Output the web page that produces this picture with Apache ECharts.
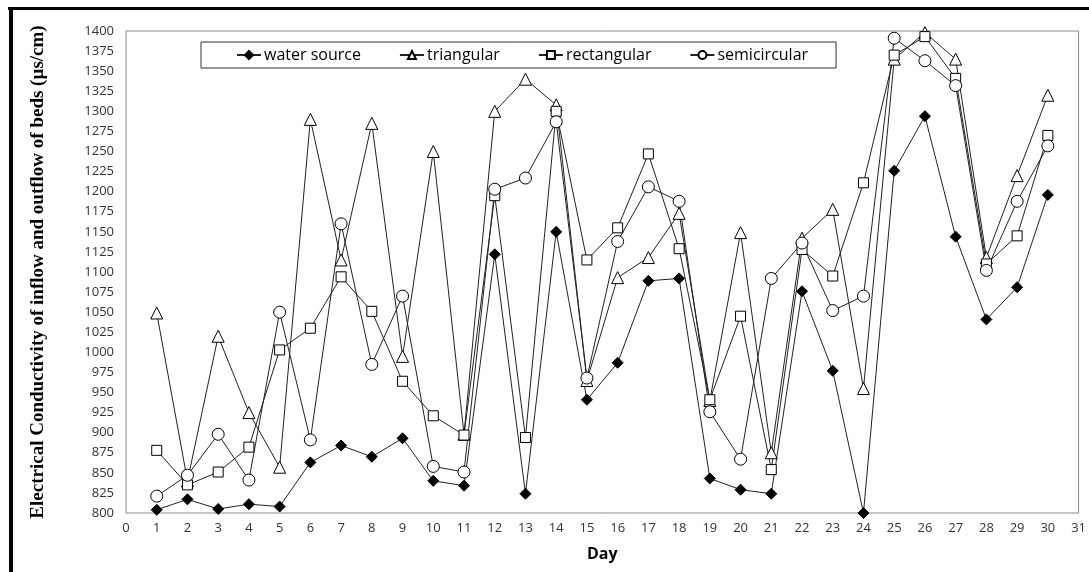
<!DOCTYPE html>
<html>
<head>
<meta charset="utf-8">
<script src="https://cdn.jsdelivr.net/npm/echarts@6/dist/echarts.min.js"></script>
<style>
html,body{margin:0;padding:0;background:#fff;}
#chart{width:1089px;height:572px;}
</style>
</head>
<body>
<div id="chart"></div>
<script>
var days = [1,2,3,4,5,6,7,8,9,10,11,12,13,14,15,16,17,18,19,20,21,22,23,24,25,26,27,28,29,30];
var waterSource = [804,817,805,811,808,863,884,870,893,840,834,1122,824,1150,941,987,1089,1092,843,829,824,1076,977,800,1226,1294,1144,1041,1081,1196];
var triangular = [1049,840,1020,925,857,1290,1115,1285,995,1250,898,1300,1340,1308,965,1093,1118,1173,940,1149,875,1142,1178,955,1365,1398,1365,1118,1220,1320];
var rectangular = [878,835,851,882,1003,1030,1094,1051,964,921,897,1195,894,1300,1115,1155,1247,1129,941,1045,854,1128,1095,1211,1370,1393,1341,1110,1145,1270];
var semicircular = [821,847,898,841,1050,891,1160,985,1070,858,851,1203,1217,1287,968,1138,1206,1188,926,867,1092,1136,1052,1070,1391,1363,1332,1102,1188,1257];
var seriesNames = ['water source','triangular','rectangular','semicircular'];

function pairs(arr){ return days.map(function(d,i){ return [d, arr[i]]; }); }

var chart = echarts.init(document.getElementById('chart'));
var lineStyle = {color:'#222', width:1};
function mk(name, data, symbol, size, fill){
  return {
    name: name, type: 'line', data: pairs(data), symbol: symbol, symbolSize: size,
    showAllSymbol: true,
    lineStyle: lineStyle,
    itemStyle: {color: fill, borderColor: '#000', borderWidth: 1},
    emphasis: {disabled: true},
    animation: false
  };
}
chart.setOption({
  backgroundColor: '#fff',
  animation: false,
  grid: {left:126, right:6, top:31, bottom:59, show:true, borderColor:'#8a8a8a', borderWidth:1},
  legend: {
    left: 201, top: 42,
    padding: [5, 28, 5, 35],
    itemGap: 38, itemWidth: 24, itemHeight: 10,
    borderColor: '#333', borderWidth: 1,
    textStyle: {fontFamily: 'Open Sans', fontSize: 16, color: '#000', padding:[0,0,0,-2]},
    data: seriesNames
  },
  xAxis: {
    type: 'value', min: 0, max: 31, interval: 1,
    name: 'Day', nameLocation: 'middle', nameGap: 33,
    nameTextStyle: {fontFamily: 'Open Sans', fontWeight: 'bold', fontSize: 16, color: '#000'},
    axisLine: {show: false}, axisTick: {show: false}, splitLine: {show: false},
    axisLabel: {fontFamily: 'Open Sans', fontSize: 13, color: '#333', margin: 9}
  },
  yAxis: {
    type: 'value', min: 800, max: 1400, interval: 25,
    name: 'Electrical Conductivity of inflow and outflow of beds (\u00b5s/cm)',
    nameLocation: 'middle', nameGap: 78,
    nameTextStyle: {fontFamily: 'Liberation Serif', fontWeight: 'bold', fontSize: 19, color: '#000'},
    axisLine: {show: false}, axisTick: {show: false}, splitLine: {show: false},
    axisLabel: {fontFamily: 'Open Sans', fontSize: 13, color: '#333', margin: 12,
      formatter: function(v){ return String(v); }}
  },
  graphic: [
    {type:'rect', shape:{x:8, y:7, width:1081, height:3}, style:{fill:'#000'}, silent:true},
    {type:'rect', shape:{x:9, y:7, width:4, height:565}, style:{fill:'#000'}, silent:true}
  ],
  series: [
    mk('water source', waterSource, 'diamond', 11, '#000'),
    mk('triangular', triangular, 'triangle', 12, '#fff'),
    mk('rectangular', rectangular, 'rect', 10, '#fff'),
    mk('semicircular', semicircular, 'circle', 12, '#fff')
  ]
});
</script>
</body>
</html>
